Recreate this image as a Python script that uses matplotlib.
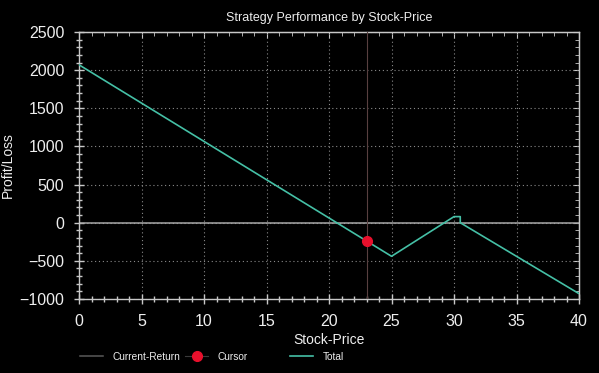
import numpy as np
import matplotlib
matplotlib.use('Agg')
import matplotlib.pyplot as plt
from matplotlib.ticker import MultipleLocator

plt.rcParams['font.family'] = ['Liberation Sans', 'DejaVu Sans']

# data
price = [0, 25, 30, 30.5, 30.5, 40]
total = [2070, -440, 80, 80, 0, -930]

current_x = [0, 40]
current_y = [0, 0]

cursor_x = 23
cursor_y = -240

xlim = (0, 40)
ylim = (-1000, 2500)

fg = '#eeeeee'
axcol = '#c8c8c8'

fig = plt.figure(figsize=(5.99, 3.73), dpi=100, facecolor='black')
ax = fig.add_axes([79/599, 1 - 299/373, 500/599, 267/373])
ax.set_facecolor('black')

l_cur, = ax.plot(current_x, current_y, color='#a8a8a8', lw=1.1, label='Current-Return', zorder=2)
l_cursor, = ax.plot([cursor_x, cursor_x, cursor_x], [ylim[0], cursor_y, ylim[1]], color='#584040', lw=0.8,
                    marker='o', markevery=[1], markersize=7, markerfacecolor='#e8102c',
                    markeredgecolor='#e8102c', label='Cursor', zorder=4)
l_tot, = ax.plot(price, total, color='#45c0a6', lw=1.2, label='Total', zorder=3)

ax.set_xlim(*xlim)
ax.set_ylim(*ylim)
ax.xaxis.set_major_locator(MultipleLocator(5))
ax.xaxis.set_minor_locator(MultipleLocator(1))
ax.yaxis.set_major_locator(MultipleLocator(500))
ax.yaxis.set_minor_locator(MultipleLocator(100))

ax.grid(True, which='major', color='#8a8a8a', linestyle=(0, (1, 2.5)), lw=0.8)
for s in ax.spines.values():
    s.set_color(axcol)
    s.set_linewidth(1.0)

ax.tick_params(which='major', direction='inout', length=7, width=1, color=axcol,
               labelcolor=fg, labelsize=11.5, pad=7)
ax.tick_params(which='minor', direction='inout', length=4, width=1, color=axcol)

# top and right ticks point inward
top = ax.secondary_xaxis('top')
top.xaxis.set_major_locator(MultipleLocator(5))
top.xaxis.set_minor_locator(MultipleLocator(1))
top.tick_params(which='major', direction='in', length=4, color=axcol, labeltop=False)
top.tick_params(which='minor', direction='in', length=3, color=axcol)
top.spines['top'].set_color(axcol)
right = ax.secondary_yaxis('right')
right.yaxis.set_major_locator(MultipleLocator(500))
right.yaxis.set_minor_locator(MultipleLocator(100))
right.tick_params(which='major', direction='in', length=4, color=axcol, labelright=False)
right.tick_params(which='minor', direction='in', length=3, color=axcol)
right.spines['right'].set_color(axcol)

ax.set_title('Strategy Performance by Stock-Price', color=fg, fontsize=9, pad=8)
ax.set_xlabel('Stock-Price', color=fg, fontsize=10, labelpad=3)
ax.set_ylabel('Profit/Loss', color=fg, fontsize=10)
ax.yaxis.set_label_coords(-64/500, 0.5)

# legend entries placed one by one along the bottom
leg_y = 1 - 357/373
entries = [(l_cur, 'Current-Return', 80, '#5a5a5a'),
           (l_cursor, 'Cursor', 185, '#3a3a3a'),
           (l_tot, 'Total', 290, '#45c0a6')]
for h, lab, x0, c in entries:
    lg = fig.legend([h], [lab], loc='center left', bbox_to_anchor=(x0/599, leg_y), frameon=False,
                    fontsize=7.3, labelcolor=fg, handlelength=2.3, handletextpad=0.9,
                    borderpad=0, borderaxespad=0)
    lg.legend_handles[0].set_color(c)
    if lab == 'Cursor':
        lg.legend_handles[0].set_markerfacecolor('#e8102c')
        lg.legend_handles[0].set_markeredgecolor('#e8102c')

fig.savefig('out.png', dpi=100, facecolor='black')
